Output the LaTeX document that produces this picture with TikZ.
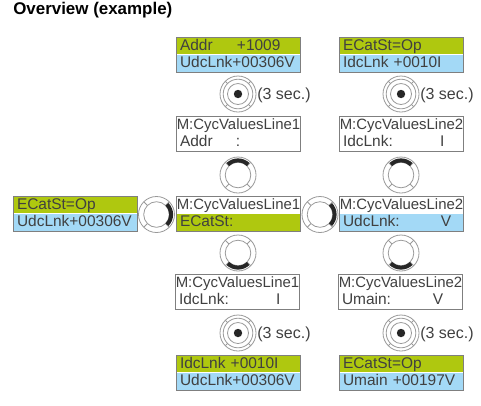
\documentclass[tikz,border=0pt]{standalone}
\usepackage{fontspec}
\setmainfont{Liberation Sans}
\definecolor{lcdgreen}{HTML}{AFC80F}
\definecolor{lcdblue}{HTML}{A3D9F6}
\definecolor{lcdframe}{HTML}{7F7F7F}
\definecolor{knobgrey}{HTML}{999999}
\definecolor{txtgrey}{HTML}{404040}
\newcommand{\cell}[3]{\makebox[\dimexpr#1pt*3/4\relax][l]{#2}#3}
\newcommand{\ind}{\hspace*{3pt}}
\newcommand{\mline}[1]{\hspace*{.6pt}{\fontsize{11.2}{13}\selectfont M:CycValuesLine#1}}
\newcommand{\lcd}[7]{%
  \node[lcdline,fill=#4,anchor=north west] (#1a) at (#2,#3) {#6};
  \node[lcdline,fill=#5,anchor=north west] (#1b) at (#2,#3+17.5) {#7};
  \node[lcdbox,anchor=north west] (#1) at (#2,#3) {};
}
\newcommand{\knob}[4]{%
  \node[knobcirc] (#1) at (#2,#3) {};
  \begin{scope}[shift={(#2,#3)},y=0.75pt]
    \draw[knobline] (0,0) circle[radius=12.8];
    \foreach \a in {45,135,225,315}{\draw[knobline] (\a:12.8) -- (\a:18);}
    \draw[knobactive] (#4-44:14.6) arc[start angle=#4-44,end angle=#4+44,radius=14.6];
  \end{scope}
}
\newcommand{\press}[3]{%
  \node[knobcirc] (#1) at (#2,#3) {};
  \begin{scope}[shift={(#2,#3)},y=0.75pt]
    \draw[knobline] (0,0) circle[radius=14.8];
    \draw[knobline] (0,0) circle[radius=10.5];
    \foreach \a in {45,135,225,315}{\draw[knobline] (\a:14.8) -- (\a:18);}
    \fill[black!85] (0,0) circle[radius=4.2];
  \end{scope}
  \node[anchor=base west,inner sep=0pt,font=\fontsize{12}{14}\selectfont,text=txtgrey] (#1t) at (#2+19,#3+5.5) {(3 sec.)};
}
\tikzset{
  x=0.75pt,y=-0.75pt,
  lcdline/.style={inner sep=0pt,outer sep=0pt,minimum height=13.1pt,text width=93pt,text height=8.6pt,text depth=2pt,align=left,text=txtgrey,font=\fontsize{11.6}{13}\selectfont},
  lcdbox/.style={draw=lcdframe,line width=1pt,inner sep=0pt,minimum width=93pt,minimum height=26.2pt},
  knobcirc/.style={circle,draw=knobgrey,line width=0.6pt,minimum size=27pt,inner sep=0pt,outer sep=0pt},
  knobline/.style={draw=knobgrey,line width=0.6pt},
  knobactive/.style={draw=black!85,line width=3pt},
}
\begin{document}
\begin{tikzpicture}
\useasboundingbox (0,0) rectangle (481,405);
\node[anchor=base west,inner sep=0pt,font=\fontsize{12.7}{15}\bfseries\selectfont,text=black] (title) at (13,14) {Overview (example)};

\lcd{addr}{176}{37}{lcdgreen}{lcdblue}{\ind\cell{57}{Addr}{+1009}}{\ind UdcLnk+00306V}
\lcd{ecat}{339}{37}{lcdgreen}{lcdblue}{\ind ECatSt=Op}{\ind IdcLnk +0010I}
\press{pa}{238}{94}
\press{pb}{401}{94}
\lcd{ma}{176}{116}{white}{white}{\mline{1}}{\ind\cell{56}{Addr}{:}}
\lcd{mb}{339}{116}{white}{white}{\mline{2}}{\ind\cell{97}{IdcLnk:}{I}}
\knob{ka}{238}{175}{90}
\knob{kb}{401}{175}{90}
\lcd{left}{13}{196}{lcdgreen}{lcdblue}{\ind ECatSt=Op}{\ind UdcLnk+00306V}
\knob{kl}{156.5}{214.5}{0}
\lcd{mc}{176}{196}{white}{lcdgreen}{\mline{1}}{\ind ECatSt:}
\knob{kr}{320}{214.5}{0}
\lcd{md}{339}{196}{white}{lcdblue}{\mline{2}}{\ind\cell{98}{UdcLnk:}{V}}
\knob{kc}{238}{253}{270}
\knob{kd}{401}{253}{270}
\lcd{me}{175}{274}{white}{white}{\mline{1}}{\ind\cell{97}{IdcLnk:}{I}}
\lcd{mf}{338}{274}{white}{white}{\mline{2}}{\ind\cell{91}{Umain:}{V}}
\press{pc}{238}{333}
\press{pd}{401}{333}
\lcd{botl}{176}{355}{lcdgreen}{lcdblue}{\ind IdcLnk +0010I}{\ind UdcLnk+00306V}
\lcd{botr}{339}{355}{lcdgreen}{lcdblue}{\ind ECatSt=Op}{\ind Umain +00197V}
\end{tikzpicture}
\end{document}
